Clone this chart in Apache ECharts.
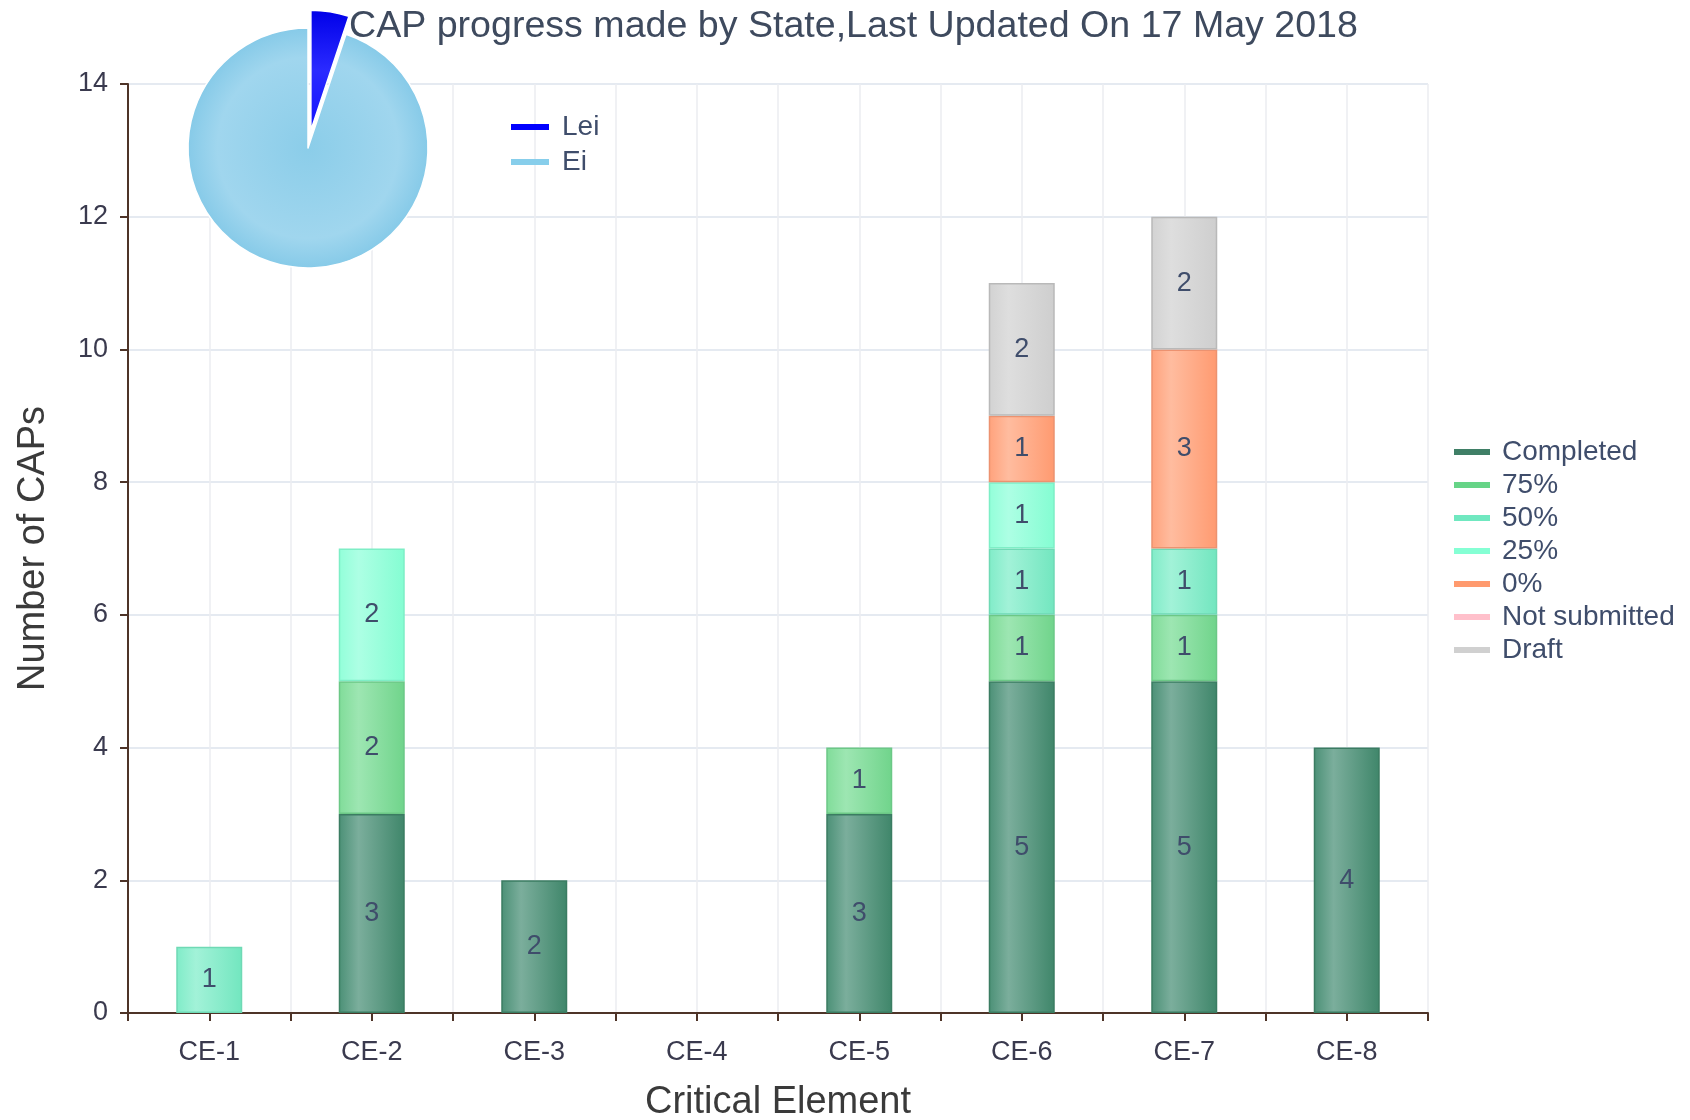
<!DOCTYPE html>
<html>
<head>
<meta charset="utf-8">
<script src="https://cdn.jsdelivr.net/npm/echarts@6/dist/echarts.min.js"></script>
<style>
  html,body{margin:0;padding:0;background:#fff;}
  #chart{width:1690px;height:1120px;}
</style>
</head>
<body>
<div id="chart"></div>
<script>
// data
var categories = ["CE-1","CE-2","CE-3","CE-4","CE-5","CE-6","CE-7","CE-8"];
var completed    = [0,3,2,0,3,5,5,4];
var pct75        = [0,2,0,0,1,1,1,0];
var pct50        = [1,0,0,0,0,1,1,0];
var pct25        = [0,2,0,0,0,1,0,0];
var pct0         = [0,0,0,0,0,1,3,0];
var notSubmitted = [0,0,0,0,0,0,0,0];
var draft        = [0,0,0,0,0,2,2,0];
var pieNames  = ["Lei","Ei"];
var pieValues = [2,37];

var FONT = "Liberation Sans, Arial, sans-serif";

function barGrad(a,b,c){
    return new echarts.graphic.LinearGradient(0,0,1,0,[
        {offset:0,color:a},{offset:0.3,color:b},{offset:1,color:c}
    ]);
}

// name, values, gradient colours, border, legend colour
var stackDefs = [
    ["Completed", completed, ["#4b9076","#7bae9c","#3f866a"], "#3b7c62", "#3f7f66"],
    ["75%", pct75, ["#80dc99","#9de6b2","#70d48b"], "#6cc886", "#66d487"],
    ["50%", pct50, ["#80ecc8","#a2f2d8","#72e6bf"], "#6fd9b5", "#70e8c0"],
    ["25%", pct25, ["#92ffd9","#adffe4","#84fdd2"], "#7eeec6", "#85ffd4"],
    ["0%", pct0, ["#ffa27c","#ffbc9f","#ff9a70"], "#ec9270", "#ff9a6e"],
    ["Not submitted", notSubmitted, ["#ffc0cb","#ffd4dc","#ffb8c4"], "#eeb0bb", "#ffc0cb"],
    ["Draft", draft, ["#d2d2d2","#dedede","#cecece"], "#b9b9b9", "#d0d0d0"]
];

var series = [];
var legendData = [];
for(var i=0;i<stackDefs.length;i++){
    var d = stackDefs[i];
    legendData.push({name:d[0], itemStyle:{color:d[4], borderWidth:0}});
    series.push({
        name:d[0],
        type:"bar",
        stack:"caps",
        xAxisIndex:0,
        yAxisIndex:0,
        barWidth:66,
        // empty segments are left out so they draw no border line
        data:d[1].map(function(v){ return v===0 ? "-" : v; }),
        itemStyle:{color:barGrad(d[2][0],d[2][1],d[2][2]), borderColor:d[3], borderWidth:1.5},
        label:{
            show:true,
            position:"inside",
            fontFamily:FONT,
            fontSize:27,
            color:"#3f4d6b"
        },
        emphasis:{disabled:true}
    });
}

var pieData = [
    {name:pieNames[0], value:pieValues[0], selected:true,
        itemStyle:{color:new echarts.graphic.LinearGradient(0,0,0,1,[
            {offset:0,color:"#0000e8"},{offset:0.5,color:"#2a2aff"},{offset:1,color:"#1010ff"}])}},
    {name:pieNames[1], value:pieValues[1],
        itemStyle:{color:new echarts.graphic.RadialGradient(0.5,0.5,0.5,[
            {offset:0,color:"#8bcde9"},{offset:0.75,color:"#a0d6ee"},{offset:1,color:"#86cae8"}])}}
];
series.push({
    type:"pie",
    center:[308,148],
    radius:120,
    startAngle:90,
    selectedMode:"single",
    selectedOffset:18,
    data:pieData,
    label:{show:false},
    labelLine:{show:false},
    itemStyle:{borderColor:"#ffffff", borderWidth:1.5},
    emphasis:{disabled:true},
    z:10
});

var myChart = echarts.init(document.getElementById("chart"));
var option = {
    animation:false,
    backgroundColor:"#ffffff",
    title:{
        text:"CAP progress made by State,Last Updated On 17 May 2018",
        left:344,
        top:3,
        textStyle:{fontFamily:FONT, fontSize:37.6, fontWeight:"normal", color:"#3e4a5e"}
    },
    legend:[{
        data:[{name:"Lei",itemStyle:{color:"#0000ff",borderWidth:0}},{name:"Ei",itemStyle:{color:"#87ceeb",borderWidth:0}}],
        orient:"vertical",
        left:506,
        top:108,
        icon:"rect",
        itemWidth:38,
        itemHeight:6,
        itemGap:7,
        selectedMode:false,
        textStyle:{fontFamily:FONT, fontSize:28, lineHeight:28, color:"#3f4d6b", padding:[0,0,0,8]}
    },{
        data:legendData,
        orient:"vertical",
        left:1449,
        top:433,
        icon:"rect",
        itemWidth:36,
        itemHeight:6,
        itemGap:5,
        selectedMode:false,
        textStyle:{fontFamily:FONT, fontSize:28, lineHeight:28, color:"#3f4d6b", padding:[0,0,0,7]}
    }],
    grid:{left:128, right:262, top:84, bottom:107, containLabel:false, outerBoundsMode:"none"},
    xAxis:[{
        type:"category",
        data:categories,
        name:"Critical Element",
        nameLocation:"middle",
        nameGap:71,
        nameMoveOverlap:false,
        nameTextStyle:{fontFamily:FONT, fontSize:38, color:"#3a3a3a"},
        axisLine:{lineStyle:{color:"#4e3428", width:2}},
        axisTick:{show:false},
        axisLabel:{fontFamily:FONT, fontSize:27, color:"#3a3a4e", margin:26},
        splitLine:{show:false}
    },{
        type:"value",
        min:0,
        max:categories.length*2,
        interval:1,
        position:"bottom",
        axisLine:{show:false},
        axisTick:{show:true, length:8, lineStyle:{color:"#4e3428", width:2}},
        axisLabel:{show:false},
        splitLine:{show:true, lineStyle:{color:"#ebecf0", width:1.5}}
    }],
    yAxis:{
        type:"value",
        min:0,
        max:14,
        interval:2,
        name:"Number of CAPs",
        nameLocation:"middle",
        nameGap:75,
        nameMoveOverlap:false,
        nameTextStyle:{fontFamily:FONT, fontSize:38, color:"#3a3a3a"},
        axisLine:{show:true, lineStyle:{color:"#4e3428", width:2}},
        axisTick:{show:true, length:8, lineStyle:{color:"#4e3428", width:2}},
        axisLabel:{fontFamily:FONT, fontSize:27, color:"#3a3a4e", margin:20},
        splitLine:{show:true, lineStyle:{color:"#dde3ed", width:1.5}}
    },
    series:series
};
myChart.setOption(option);
window.addEventListener("resize",function(){
    myChart.resize();
});
</script>
</body>
</html>
